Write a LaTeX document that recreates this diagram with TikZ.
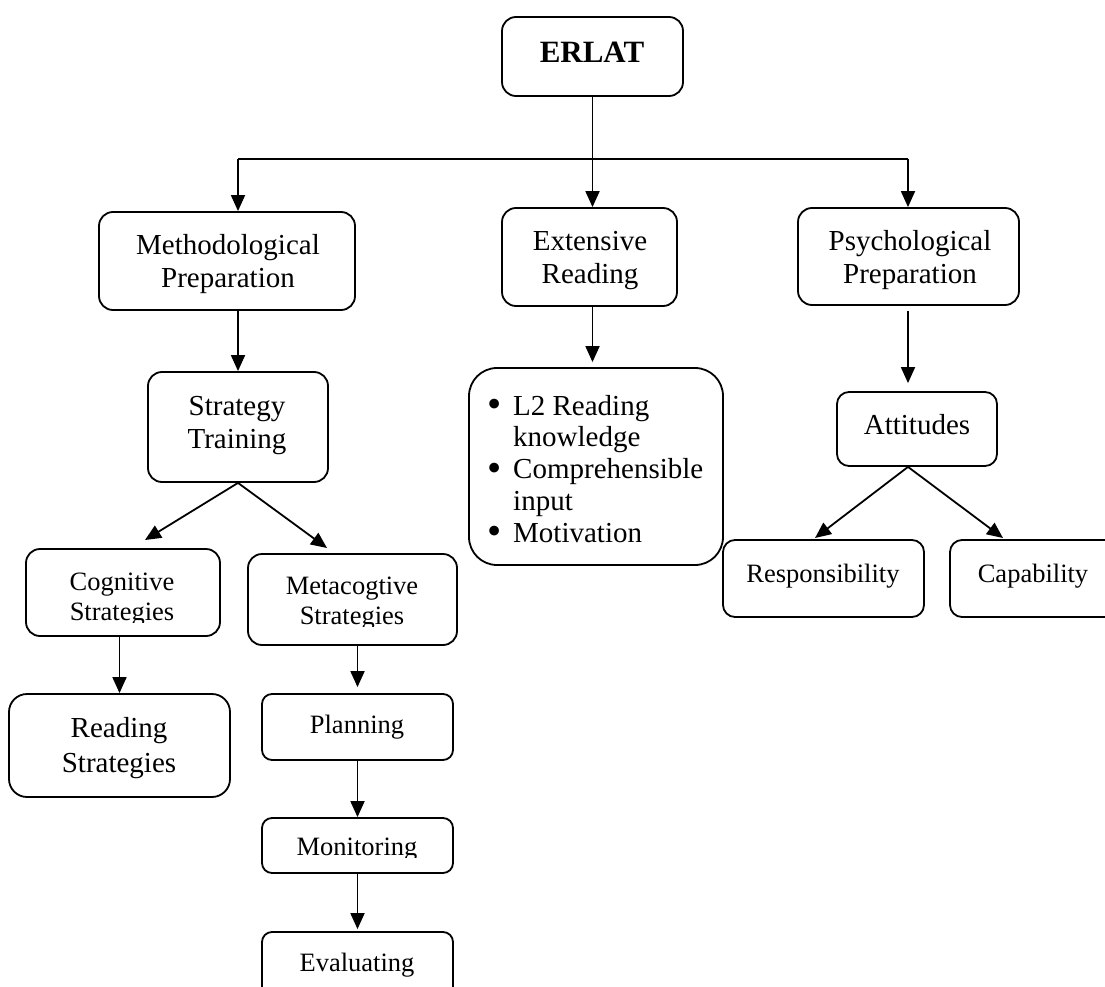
\documentclass[tikz,border=0pt]{standalone}
\usepackage{fontspec}
\setmainfont{Liberation Serif}
\usetikzlibrary{arrows.meta}
% stacked, centred lines whose baseline is that of the first line
\newcommand{\cellstack}[1]{\begin{tabular}[t]{@{}c@{}}#1\end{tabular}}
% list bullet with its hanging indent
\newcommand{\listdot}{\makebox[25pt][l]{\hspace{-1pt}\raisebox{-2.6pt}{\scalebox{1.4}{•}}}}
\begin{document}
\begin{tikzpicture}[x=1pt,y=-1pt,
  box/.style={draw, line width=1.8pt, rounded corners=14pt, inner sep=0pt},
  txt/.style={inner sep=0pt, anchor=base},
  big/.style={txt, font=\fontsize{29}{33}\selectfont},
  small/.style={txt, font=\fontsize{26.5}{30}\selectfont},
  link/.style={line width=1.8pt},
  arr/.style={line width=1.8pt, -{Triangle[length=16pt,width=14pt]}}]
\useasboundingbox (0,0) rectangle (1105,987);
\clip (0,0) rectangle (1105,987);

% ---- boxes ----
\node[box, minimum width=181pt, minimum height=79pt] (erlat) at (592.5,56.5) {};
\node[box, minimum width=256pt, minimum height=98pt] (meth) at (227,261) {};
\node[box, minimum width=175pt, minimum height=98pt] (ext) at (589.5,257) {};
\node[box, minimum width=221pt, minimum height=97pt] (psych) at (908.5,256.5) {};
\node[box, minimum width=180pt, minimum height=110pt] (strat) at (238,427) {};
\node[box, rounded corners=28pt, minimum width=254pt, minimum height=197pt] (ideas) at (596,466.5) {};
\node[box, rounded corners=12pt, minimum width=160pt, minimum height=74pt] (att) at (917,429) {};
\node[box, minimum width=194pt, minimum height=87pt] (cog) at (123,592.5) {};
\node[box, minimum width=209pt, minimum height=91pt] (meta) at (352.5,599.5) {};
\node[box, rounded corners=18pt, minimum width=221pt, minimum height=103pt] (read) at (119.5,745.5) {};
\node[box, rounded corners=10pt, minimum width=191pt, minimum height=66pt] (plan) at (357.5,727) {};
\node[box, rounded corners=10pt, minimum width=191pt, minimum height=55pt] (mon) at (357.5,845.5) {};
\node[box, rounded corners=10pt, minimum width=191pt, minimum height=68pt] (eval) at (357.5,966) {};
\node[box, rounded corners=12pt, minimum width=201pt, minimum height=77pt] (resp) at (823.5,578.5) {};
\node[box, rounded corners=12pt, minimum width=170pt, minimum height=77pt] (cap) at (1035,578.5) {};

% ---- texts ----
\node[txt, font=\bfseries\fontsize{31}{35}\selectfont] (erlatT) at (592,63) {ERLAT};
\node[big] (methT) at (228,254) {\cellstack{Methodological\\Preparation}};
\node[big] (extT) at (590,250) {\cellstack{Extensive\\Reading}};
\node[big] (psychT) at (910,250) {\cellstack{Psychological\\Preparation}};
\node[big] (stratT) at (237,415) {\cellstack{Strategy\\Training}};
\node[big] (attT) at (917,434) {Attitudes};
\node[big, anchor=base west, font=\fontsize{29}{31.75}\selectfont] (ideasT) at (488,415)
  {\begin{tabular}[t]{@{}l@{}l@{}}
   \listdot & L2 Reading\\
            & knowledge\\
   \listdot & Comprehensible\\
            & input\\
   \listdot & Motivation
   \end{tabular}};
\begin{scope}
  \clip (20,545) rectangle (226,622);
  \node[small] (cogT) at (122,590) {\cellstack{Cognitive\\Strategies}};
\end{scope}
\begin{scope}
  \clip (242,550) rectangle (463,626);
  \node[small] (metaT) at (352,594) {\cellstack{Metacogtive\\Strategies}};
\end{scope}
\node[big, font=\fontsize{29}{35}\selectfont] (readT) at (119,737) {\cellstack{Reading\\Strategies}};
\node[small] (planT) at (357,733) {Planning};
\begin{scope}
  \clip (256,812) rectangle (459,857);
  \node[small] (monT) at (357,855) {Monitoring};
\end{scope}
\node[small] (evalT) at (357,971) {Evaluating};
\node[small] (respT) at (823,582) {Responsibility};
\node[small] (capT) at (1033,582) {Capability};

% ---- connectors ----
\coordinate (jl) at (238,159);
\coordinate (jr) at (908,159);
\draw[link] (jl) -- (jr);
\draw[arr] (erlat.south) -- (erlat.south |- ext.north);
\draw[arr] (jl) -- (jl |- meth.north);
\draw[arr] (jr) -- (jr |- psych.north);
\draw[arr] (strat.north |- meth.south) -- (strat.north);
\draw[arr, shorten >=5pt] (erlat.south |- ext.south) -- (erlat.south |- ideas.north);
\draw[arr, shorten <=5pt, shorten >=8pt] (jr |- psych.south) -- (jr |- att.north);

\coordinate (cogin) at (145,540);
\coordinate (metain) at (327,548);
\draw[arr] (strat.south) -- (cogin);
\draw[arr] (strat.south) -- (metain);

\coordinate (attout) at (jr |- att.south);
\coordinate (respin) at (815,538);
\coordinate (capin) at (1003,538);
\draw[arr] (attout) -- (respin);
\draw[arr] (attout) -- (capin);

\draw[arr] (read.north |- cog.south) -- (read.north);
\draw[arr, shorten >=6pt] (plan.north |- meta.south) -- (plan.north);
\draw[arr] (plan.south) -- (mon.north);
\draw[arr, shorten >=2pt] (mon.south) -- (eval.north);
\end{tikzpicture}
\end{document}
